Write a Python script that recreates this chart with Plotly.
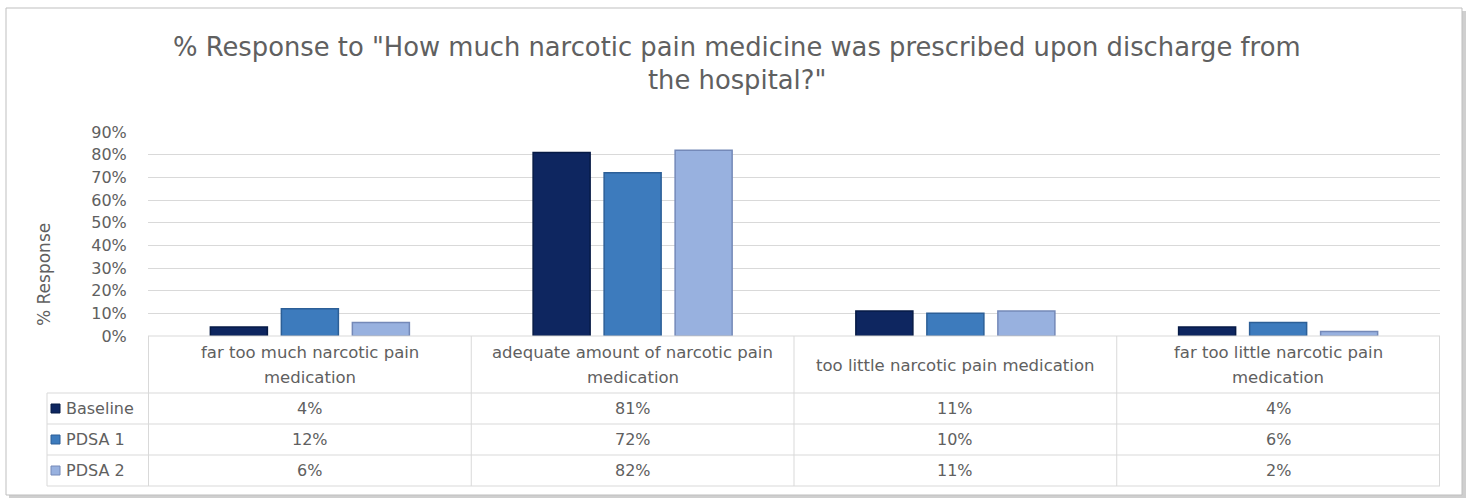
import plotly.graph_objects as go

categories = ["far too much narcotic pain medication",
              "adequate amount of narcotic pain medication",
              "too little narcotic pain medication",
              "far too little narcotic pain medication"]
header_lines = [["far too much narcotic pain", "medication"],
                ["adequate amount of narcotic pain", "medication"],
                ["too little narcotic pain medication"],
                ["far too little narcotic pain", "medication"]]
title_lines = ['% Response to "How much narcotic pain medicine was prescribed upon discharge from',
               'the hospital?"']
series_names = ["Baseline", "PDSA 1", "PDSA 2"]
baseline = [0.04, 0.81, 0.11, 0.04]
pdsa1 = [0.12, 0.72, 0.10, 0.06]
pdsa2 = [0.06, 0.82, 0.11, 0.02]
series_values = [baseline, pdsa1, pdsa2]
y_ticks = [0, 0.1, 0.2, 0.3, 0.4, 0.5, 0.6, 0.7, 0.8, 0.9]

colors = ["#0e2660", "#3d7bbd", "#98b1df"]
edge = ["#061a45", "#2c5f97", "#7489b8"]

FONT = "DejaVu Sans, Verdana, sans-serif"
W, H = 1473, 501
L, R, T, B = 148, 33, 132, 165
PW = W - L - R
PH = H - T - B

def px(x):
    return (x - L) / PW

def py(y):
    return (H - B - y) / PH

fig = go.Figure()
for name, vals, c, e in zip(series_names, series_values, colors, edge):
    fig.add_trace(go.Bar(x=categories, y=vals, name=name,
                         marker=dict(color=c, line=dict(color=e, width=1.5)),
                         showlegend=False, hoverinfo="skip"))

grid = "#d9d9d9"
txt = "#606060"
shapes = []
annotations = []

# outer chart frame with shadow
shapes.append(dict(type="rect", xref="paper", yref="paper", x0=px(9), x1=px(1466),
                   y0=py(498), y1=py(11), line=dict(width=0), fillcolor="#cfcfcf", layer="below"))
shapes.append(dict(type="rect", xref="paper", yref="paper", x0=px(6), x1=px(1462),
                   y0=py(495), y1=py(8), line=dict(color="#bfbfbf", width=1),
                   fillcolor="white", layer="below"))

# title
for i, line in enumerate(title_lines):
    annotations.append(dict(x=px(737), xref="paper", y=py(47 + 33 * i), yref="paper",
                            text=line, showarrow=False, font=dict(size=25.8, color=txt),
                            xanchor="center", yanchor="middle"))

# table lines
row_y = [336, 393, 424, 455, 486]
for i, yy in enumerate(row_y):
    x0 = px(148) if i == 0 else px(47)
    shapes.append(dict(type="line", xref="paper", yref="paper", x0=x0, x1=1,
                       y0=py(yy), y1=py(yy), line=dict(color=grid, width=1)))
for k in range(len(categories) + 1):
    shapes.append(dict(type="line", xref="x", yref="paper", x0=k - 0.5, x1=k - 0.5,
                       y0=py(336), y1=py(486), line=dict(color=grid, width=1)))
shapes.append(dict(type="line", xref="paper", yref="paper", x0=px(47), x1=px(47),
                   y0=py(393), y1=py(486), line=dict(color=grid, width=1)))

# header labels
for k, lines in enumerate(header_lines):
    ys = [365] if len(lines) == 1 else [352, 377]
    for line, yy in zip(lines, ys):
        annotations.append(dict(x=categories[k], xref="x", y=py(yy), yref="paper",
                                text=line, showarrow=False, font=dict(size=16.5, color=txt),
                                xanchor="center", yanchor="middle"))

# rows
for r, (name, vals, c) in enumerate(zip(series_names, series_values, colors)):
    yc = (row_y[r + 1] + row_y[r + 2]) / 2
    shapes.append(dict(type="rect", xref="paper", yref="paper", x0=px(51), x1=px(60),
                       y0=py(yc + 4.5), y1=py(yc - 4.5), fillcolor=c,
                       line=dict(color=edge[r], width=1)))
    annotations.append(dict(x=px(64), xref="paper", y=py(yc), yref="paper", text=name,
                            showarrow=False, font=dict(size=16, color=txt),
                            xanchor="left", yanchor="middle"))
    for k, v in enumerate(vals):
        annotations.append(dict(x=categories[k], xref="x", y=py(yc), yref="paper",
                                text=f"{round(v * 100)}%", showarrow=False,
                                font=dict(size=16, color=txt),
                                xanchor="center", yanchor="middle"))

# y axis title
annotations.append(dict(x=px(44), xref="paper", y=py(275), yref="paper",
                        text="% Response", textangle=-90, showarrow=False,
                        font=dict(size=17, color=txt), xanchor="center", yanchor="middle"))

fig.update_layout(
    width=W, height=H,
    margin=dict(l=L, r=R, t=T, b=B, pad=0),
    paper_bgcolor="white", plot_bgcolor="rgba(0,0,0,0)",
    font=dict(family=FONT, color=txt),
    barmode="group", bargap=0.34, bargroupgap=0.197,
    xaxis=dict(showticklabels=False, showgrid=False, zeroline=False, showline=False,
               ticks="", fixedrange=True),
    yaxis=dict(range=[0, 0.9], tickvals=y_ticks, tickformat=".0%", showgrid=True,
               gridcolor=grid, gridwidth=1, zeroline=False, showline=False,
               ticks="outside", ticklen=17, tickcolor="rgba(0,0,0,0)",
               tickfont=dict(size=16, color=txt), fixedrange=True),
    shapes=shapes, annotations=annotations,
)
fig.write_html("out.html", config={"displayModeBar": False},
               post_script="document.body.style.margin='0';")
